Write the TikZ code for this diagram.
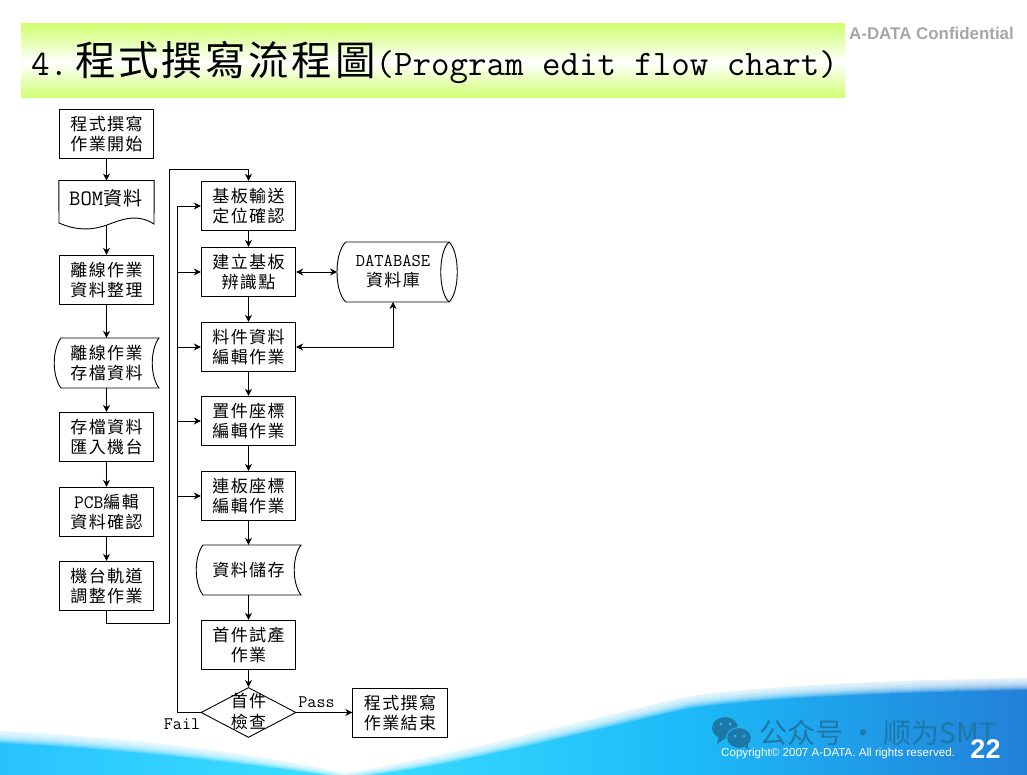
\documentclass[tikz,border=0pt]{standalone}
\usepackage{fontspec}
\setmainfont{Liberation Sans}
\newfontfamily\cjk[LetterSpace=8]{Noto Sans CJK TC}
\newfontfamily\cjktitle[LetterSpace=7]{Noto Sans CJK TC}
\newfontfamily\cjksc{Noto Sans CJK SC}
\usetikzlibrary{shapes.geometric, arrows.meta}
\definecolor{bandgreen}{HTML}{D0FF70}
\definecolor{swoopleft}{HTML}{28C2FF}
\definecolor{swoopmid}{HTML}{3CE0FF}
\definecolor{swoopright}{HTML}{1DB8F8}
\definecolor{swoopblue}{HTML}{2280D8}
\definecolor{markteal}{HTML}{1C78A6}
\tikzset{
    flowbox/.style={draw, line width=0.9pt, minimum width=94.5pt, minimum height=49.5pt, inner sep=0pt, align=center, font=\cjk\fontsize{17}{20}\selectfont},
    flowshape/.style={flowbox, draw=none},
    flowoutline/.style={draw, line width=0.9pt},
    flowarrow/.style={->, line width=0.9pt},
    flowtext/.style={inner sep=0pt, font=\ttfamily\fontsize{17.6}{20}\selectfont}
}
\begin{document}
\begin{tikzpicture}[>={Stealth[length=7pt,width=7pt]}, x=1pt, y=-1pt]
    \useasboundingbox (0,0) rectangle (1027,775);

    % ==================== 底部色帶 ====================
    \shade[left color=swoopleft, right color=swoopmid] (0,675) rectangle (340,775);
    \shade[left color=swoopmid, right color=swoopright] (340,675) rectangle (700,775);
    \shade[left color=swoopright, right color=swoopblue] (700,675) rectangle (1027,775);
    \foreach \lift in {0,1,...,11} {
        \fill[white, opacity=0.17] (0,{743-\lift}) .. controls (110,{748-\lift}) and (240,{762-\lift}) .. (345,{778-0.4*\lift})
            .. controls (450,{768-\lift}) and (570,{735-\lift}) .. (690,{708-\lift})
            .. controls (770,{697-\lift}) and (900,{692-\lift}) .. (1027,{690-\lift}) -- (1027,670) -- (0,670) -- cycle;
    }
    \fill[white] (0,731) .. controls (110,736) and (240,750) .. (345,773)
        .. controls (450,756) and (570,723) .. (690,696)
        .. controls (770,685) and (900,680) .. (1027,678) -- (1027,670) -- (0,670) -- cycle;

    % ==================== 標題 ====================
    \shade[top color=bandgreen, bottom color=white] (21,24) rectangle (845,62);
    \shade[top color=white, bottom color=bandgreen] (21,62) rectangle (845,98);
    \node[inner sep=0pt, anchor=west, font=\fontsize{40}{44}\selectfont] (title) at (31,62)
        {\ttfamily\fontsize{35.9}{44}\selectfont 4.\hspace{7pt}{\cjktitle\fontsize{40.5}{44}\selectfont 程式撰寫流程圖}(Program edit flow chart)};
    \node[inner sep=0pt, anchor=west, text=black!35, font=\bfseries\fontsize{16.9}{18}\selectfont] (secret) at (849,33) {A-DATA Confidential};

    % ==================== 左列 ====================
    \node[flowbox] (start) at (106.5,134) {程式撰寫\\作業開始};
    \node[flowshape, minimum height=44pt] (bom) at (106.5,203) {};
    \draw[flowoutline] (bom.north west) -- (bom.north east) -- (154,224)
        .. controls (138,214) and (125,218) .. (107,225) .. controls (90,231) and (75,230) .. (59,223) -- cycle;
    \node[inner sep=0pt, font=\cjk\fontsize{19}{20}\selectfont] (bomtext) at (106,198) {{\ttfamily\fontsize{22}{20}\selectfont BOM}資料};
    \node[flowbox] (offline) at (106.5,280) {離線作業\\資料整理};
    \node[flowshape, minimum width=104pt] (saved) at (106.5,363) {離線作業\\存檔資料};
    \draw[flowoutline] (61,338) -- (159,338) .. controls (150,350) and (150,376) .. (159,388) -- (61,388)
        .. controls (52,376) and (52,350) .. (61,338) -- cycle;
    \node[flowbox] (import) at (106.5,437) {存檔資料\\匯入機台};
    \node[flowbox] (pcb) at (106.5,512) {{\ttfamily\fontsize{19}{20}\selectfont PCB}編輯\\資料確認};
    \node[flowbox] (rail) at (106.5,586) {機台軌道\\調整作業};

    % ==================== 右列 ====================
    \node[flowbox] (locate) at (248.5,206) {基板輸送\\定位確認};
    \node[flowbox] (mark) at (248.5,272) {建立基板\\辨識點};
    \node[flowbox] (part) at (248.5,347) {料件資料\\編輯作業};
    \node[flowbox] (place) at (248.5,421) {置件座標\\編輯作業};
    \node[flowbox] (panel) at (248.5,496) {連板座標\\編輯作業};
    \node[flowshape, minimum width=104pt] (store) at (248.5,570) {資料儲存};
    \draw[flowoutline] (203,545) -- (301,545) .. controls (292,557) and (292,583) .. (301,595) -- (203,595)
        .. controls (194,583) and (194,557) .. (203,545) -- cycle;
    \node[flowbox] (trial) at (248.5,645) {首件試產\\作業};
    \node[diamond, draw, line width=0.9pt, aspect=1.9, minimum width=95pt, minimum height=50pt, inner sep=0pt] (check) at (248.5,712.5) {};
    \node[inner sep=0pt, align=center, font=\cjk\fontsize{17}{21}\selectfont] (checktext) at (248.5,711.5) {首件\\檢查};
    \node[flowbox] (finish) at (400,713) {程式撰寫\\作業結束};

    % ==================== 資料庫 ====================
    \node[flowshape, minimum width=120pt, minimum height=60pt] (db) at (393,272) {{\ttfamily\fontsize{18}{20}\selectfont DATABASE}\\資料庫};
    \draw[flowoutline] (346,242) -- (449,242) .. controls (460,252) and (460,292) .. (449,302) -- (346,302)
        .. controls (334,292) and (334,252) .. (346,242) -- cycle;
    \draw[flowoutline] (449,242) .. controls (438,252) and (438,292) .. (449,302);

    % ==================== 連接線 ====================
    \foreach \from/\to in {start/bom, bom/offline, offline/saved, saved/import, import/pcb, pcb/rail, locate/mark, mark/part, part/place, place/panel, panel/store, store/trial, trial/check}
        \draw[flowarrow] (\from) -- (\to);
    \coordinate (railturn) at (106.5,623);
    \coordinate (railside) at (169,623);
    \coordinate (railtop) at (169,169);
    \coordinate (locatetop) at (248.5,169);
    \draw[flowarrow] (rail.south) -- (railturn) -- (railside) -- (railtop) -- (locatetop) -- (locate.north);
    \coordinate (failside) at (177,712.5);
    \coordinate (failtop) at (177,206);
    \draw[flowarrow] (check.west) -- (failside) -- (failtop) -- (locate.west);
    \foreach \to in {mark, part, place, panel}
        \draw[flowarrow] (failside |- \to.west) -- (\to.west);
    \draw[flowarrow] (check.east) -- (check.east -| finish.west);
    \coordinate (dbwest) at (337,272);
    \draw[<->, line width=0.9pt] (mark.east) -- (dbwest);
    \coordinate (dbfoot) at (393,302);
    \draw[<->, line width=0.9pt] (part.east) -- (dbfoot |- part.east) -- (dbfoot);
    \node[flowtext] (passtext) at (316.5,702) {Pass};
    \node[flowtext] (failtext) at (182,724) {Fail};

    % ==================== 浮水印與頁尾 ====================
    \fill[markteal] (725,728) ellipse (13 and 11);
    \fill[markteal] (719,736) -- (717,744) -- (726,738) -- cycle;
    \draw[swoopright, line width=1pt, fill=markteal] (739,738) ellipse (12.5 and 10.5);
    \fill[markteal] (744,746) -- (748,750) -- (748,743) -- cycle;
    \foreach \eyex/\eyey in {721/724, 730/724, 735/736, 744/736}
        \fill[swoopright] (\eyex,\eyey) circle (1.6);
    \node[inner sep=0pt, anchor=west, text=markteal, font=\cjksc\fontsize{28}{30}\selectfont] (account) at (759,733) {公众号 · 顺为SMT};
    \node[inner sep=0pt, anchor=west, text=white, font=\fontsize{11.6}{13}\selectfont] (copyright) at (721,753) {Copyright© 2007 A-DATA. All rights reserved.};
    \node[inner sep=0pt, text=white, font=\bfseries\fontsize{27}{28}\selectfont] (pageno) at (985.5,749) {22};
\end{tikzpicture}
\end{document}
